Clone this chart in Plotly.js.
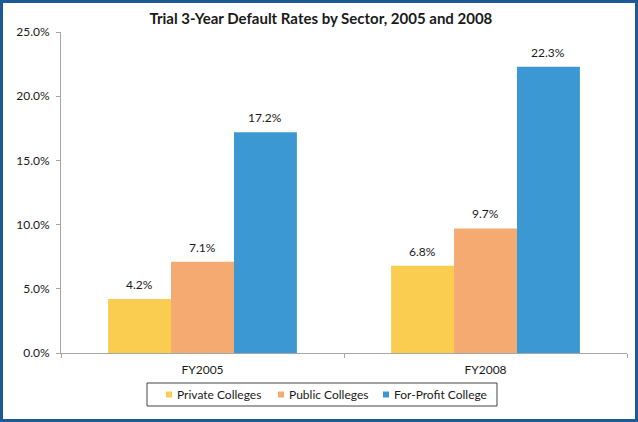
<!DOCTYPE html>
<html>
<head>
<meta charset="utf-8">
<script src="https://cdn.plot.ly/plotly-3.0.1.min.js"></script>
<style>
  html, body { margin: 0; padding: 0; background: #fff; }
  #frame { width: 638px; height: 422px; box-sizing: border-box; border: 3px solid #1B5A96; background: #fff; overflow: hidden; }
  #chart { width: 632px; height: 416px; }
</style>
</head>
<body>
<div id="frame"><div id="chart"></div></div>
<script>
const categories = ['FY2005', 'FY2008'];
const seriesNames = ['Private Colleges', 'Public Colleges', 'For-Profit College'];
const privateVals = [4.2, 6.8];
const publicVals = [7.1, 9.7];
const forProfitVals = [17.2, 22.3];
const yTicks = [0, 5, 10, 15, 20, 25];

const colors = ['#FACD50', '#F5AA72', '#3C98D2'];
const fontFam = 'Lato, "Open Sans", sans-serif';
const textColor = '#1a1a1a';
const allVals = [privateVals, publicVals, forProfitVals];

const W = 632, H = 416;
const M = { l: 58, r: 8, t: 29, b: 66 };
const plotW = W - M.l - M.r, plotH = H - M.t - M.b;
const bargap = 0.333;
const barPx = (plotW / categories.length) * (1 - bargap) / allVals.length;
const px = X => (X - M.l) / plotW;       // horizontal pixel -> paper
const py = Y => (H - M.b - Y) / plotH;   // vertical pixel -> paper

const traces = allVals.map((vals, i) => ({
  type: 'bar',
  name: seriesNames[i],
  x: categories,
  y: vals,
  marker: { color: colors[i] },
  showlegend: false,
  hoverinfo: 'skip'
}));

const annotations = [];
allVals.forEach((vals, i) => {
  vals.forEach((v, j) => {
    annotations.push({
      x: categories[j], y: v, xref: 'x', yref: 'y',
      xshift: (i - (allVals.length - 1) / 2) * barPx, yshift: 5,
      text: v.toFixed(1) + '%', showarrow: false, xanchor: 'center', yanchor: 'bottom',
      font: { family: fontFam, size: 12, color: textColor }
    });
  });
});

// custom legend
const shapes = [{
  type: 'rect', xref: 'paper', yref: 'paper',
  x0: px(144), x1: px(494), y0: py(380), y1: py(403),
  line: { color: '#444', width: 1 }, fillcolor: '#fff', layer: 'below'
}];
const legMarkX = [163, 275, 380];
const legCenterY = 391.5;
seriesNames.forEach((name, i) => {
  shapes.push({
    type: 'rect', xref: 'paper', yref: 'paper',
    x0: px(legMarkX[i]), x1: px(legMarkX[i] + 6), y0: py(legCenterY + 3), y1: py(legCenterY - 3),
    line: { width: 0 }, fillcolor: colors[i]
  });
  annotations.push({
    xref: 'paper', yref: 'paper', x: px(legMarkX[i] + 9), y: py(legCenterY),
    xanchor: 'left', yanchor: 'middle', showarrow: false, text: name,
    font: { family: fontFam, size: 12, color: textColor }
  });
});

const layout = {
  width: W, height: H,
  margin: { l: M.l, r: M.r, t: M.t, b: M.b, autoexpand: false },
  paper_bgcolor: '#fff', plot_bgcolor: '#fff',
  barmode: 'group',
  bargap: bargap, bargroupgap: 0,
  font: { family: fontFam, size: 12, color: textColor },
  title: { text: '<b>Trial 3-Year Default Rates by Sector, 2005 and 2008</b>', x: 0.503, xanchor: 'center', y: 0.9615, yanchor: 'middle', font: { family: fontFam, size: 15, color: textColor } },
  xaxis: {
    type: 'category', showgrid: false, showline: true, linecolor: '#A6A6A6', linewidth: 1,
    ticks: 'outside', tickson: 'boundaries', ticklen: 4, tickcolor: '#A6A6A6',
    ticklabelstandoff: 6,
    tickfont: { family: fontFam, size: 12, color: textColor }, fixedrange: true
  },
  yaxis: {
    range: [0, 25], tickvals: yTicks, ticktext: yTicks.map(v => v.toFixed(1) + '%'),
    showgrid: false, zeroline: false, showline: true, linecolor: '#A6A6A6', linewidth: 1,
    ticks: 'outside', ticklen: 4, tickcolor: '#A6A6A6', ticklabelstandoff: 4,
    tickfont: { family: fontFam, size: 12, color: textColor }, fixedrange: true
  },
  showlegend: false,
  shapes: shapes,
  annotations: annotations
};

Plotly.newPlot('chart', traces, layout, { displayModeBar: false, staticPlot: true });
</script>
</body>
</html>
